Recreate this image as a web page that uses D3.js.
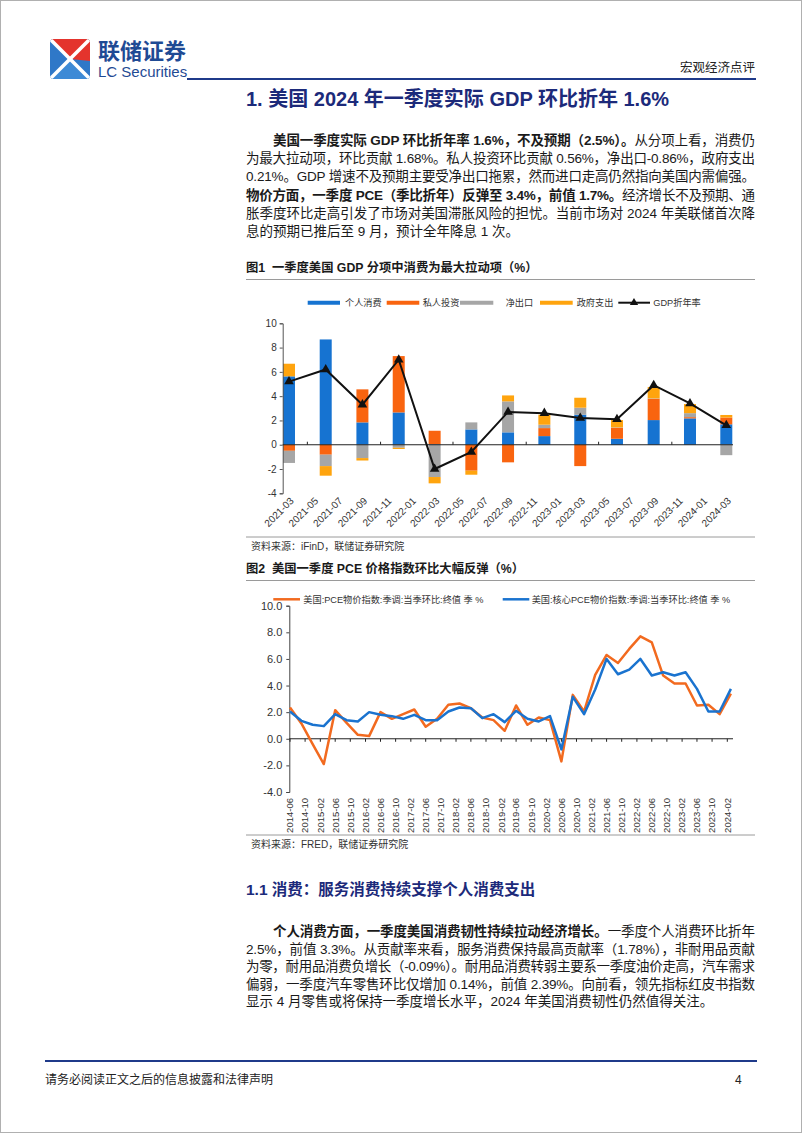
<!DOCTYPE html>
<html><head><meta charset="utf-8">
<script src="https://cdn.jsdelivr.net/npm/d3@7"></script>
<style>
body{margin:0;background:#fff;}
svg{display:block;font-family:"Liberation Sans","Noto Sans CJK SC",sans-serif;}
</style></head><body>
<svg id="page" width="802" height="1133"></svg>
<script>
// ---------------- DATA ----------------
// Chart 1: GDP contributions (quarterly, annualised q/q, %)
const gdpQuarters = ["2021-03","2021-06","2021-09","2021-12","2022-03","2022-06","2022-09","2022-12","2023-03","2023-06","2023-09","2023-12","2024-03"];
const consumption = [5.63, 8.67, 1.84, 2.66, 0.05, 1.26, 1.02, 0.71, 2.47, 0.49, 2.03, 2.17, 1.68];
const investment  = [-0.50, -0.82, 2.72, 4.64, 1.10, -2.14, -1.45, 0.66, -1.76, 0.91, 1.76, 0.10, 0.56];
const netExports  = [-1.00, -0.94, -1.10, -0.25, -2.66, 0.58, 2.55, 0.28, 0.58, 0.03, 0.03, 0.33, -0.86];
const government  = [1.04, -0.79, -0.20, -0.10, -0.52, -0.33, 0.49, 0.82, 0.82, 0.60, 0.93, 0.75, 0.21];
const gdpRate     = [5.2, 6.2, 3.3, 7.0, -2.0, -0.6, 2.7, 2.6, 2.2, 2.1, 4.9, 3.4, 1.6];
const chart1SeriesNames = ["个人消费","私人投资","净出口","政府支出"];
const chart1LineName = "GDP折年率";
const chart1TickLabels = ["2021-03","2021-05","2021-07","2021-09","2021-11","2022-01","2022-03","2022-05","2022-07","2022-09","2022-11","2023-01","2023-03","2023-05","2023-07","2023-09","2023-11","2024-01","2024-03"];
const chart1YTicks = [-4,-2,0,2,4,6,8,10];

// Chart 2: PCE price index q/q annualised (%)
const pceQuarters = ["2014-06","2014-09","2014-12","2015-03","2015-06","2015-09","2015-12","2016-03","2016-06","2016-09","2016-12","2017-03","2017-06","2017-09","2017-12","2018-03","2018-06","2018-09","2018-12","2019-03","2019-06","2019-09","2019-12","2020-03","2020-06","2020-09","2020-12","2021-03","2021-06","2021-09","2021-12","2022-03","2022-06","2022-09","2022-12","2023-03","2023-06","2023-09","2023-12","2024-03"];
const pceHeadline = [2.35, 1.15, -0.4, -1.9, 2.15, 1.2, 0.3, 0.2, 2.0, 1.5, 1.85, 2.2, 0.9, 1.5, 2.55, 2.65, 2.3, 1.6, 1.4, 0.6, 2.5, 1.05, 1.6, 1.4, -1.7, 3.3, 2.05, 4.8, 6.3, 5.7, 6.75, 7.7, 7.25, 4.75, 4.15, 4.15, 2.5, 2.55, 1.85, 3.4];
const pceCore     = [2.05, 1.35, 1.05, 0.95, 1.85, 1.4, 1.3, 2.0, 1.8, 1.7, 1.5, 1.8, 1.4, 1.4, 2.05, 2.35, 2.3, 1.55, 1.85, 1.25, 2.1, 1.5, 1.3, 1.7, -0.8, 3.15, 1.85, 3.7, 6.0, 4.85, 5.2, 6.0, 4.75, 5.0, 4.75, 5.0, 3.75, 2.05, 2.05, 3.75];
const chart2SeriesNames = ["美国:PCE物价指数:季调:当季环比:终值 季 %","美国:核心PCE物价指数:季调:当季环比:终值 季 %"];
const chart2TickLabels = ["2014-06","2014-10","2015-02","2015-06","2015-10","2016-02","2016-06","2016-10","2017-02","2017-06","2017-10","2018-02","2018-06","2018-10","2019-02","2019-06","2019-10","2020-02","2020-06","2020-10","2021-02","2021-06","2021-10","2022-02","2022-06","2022-10","2023-02","2023-06","2023-10","2024-02"];
const chart2YTicks = [-4,-2,0,2,4,6,8,10];

// ---------------- PAGE ----------------
const svg = d3.select("#page");
svg.append("rect").attr("x",0).attr("y",0).attr("width",802).attr("height",1133).attr("fill","#fff");
svg.append("rect").attr("x",0.5).attr("y",0.5).attr("width",801).attr("height",1132).attr("fill","none").attr("stroke","#b0b0b0");

const NAVY = "#1c2a7a";
const parseM = d3.timeParse("%Y-%m");

// Logo
const logo = svg.append("g").attr("transform","translate(50,39)");
const S = 40;
logo.append("clipPath").attr("id","lc").append("rect").attr("width",S).attr("height",S).attr("rx",4);
const lg = logo.append("g").attr("clip-path","url(#lc)");
lg.append("rect").attr("width",S).attr("height",S).attr("fill","#2f78c8");
lg.append("polygon").attr("points",`0,0 ${S},0 ${S},${S*0.55} ${S/2},${S/2}`).attr("fill","#e4342d");
lg.append("polygon").attr("points",`0,${S} ${S},${S} ${S/2},${S/2}`).attr("fill","#3d8ad6");
lg.append("line").attr("x1",0).attr("y1",0).attr("x2",S).attr("y2",S).attr("stroke","#fff").attr("stroke-width",3.5);
lg.append("line").attr("x1",S).attr("y1",0).attr("x2",0).attr("y2",S).attr("stroke","#fff").attr("stroke-width",3.5);
svg.append("text").attr("x",98).attr("y",59).attr("font-size",22).attr("font-weight","bold").attr("fill","#1f4a94").text("联储证券");
svg.append("text").attr("x",98).attr("y",77).attr("font-size",15).attr("fill","#1f4a94").text("LC Securities");
svg.append("line").attr("x1",187).attr("x2",756).attr("y1",79).attr("y2",79).attr("stroke","#1f3a8a").attr("stroke-width",2);
svg.append("text").attr("x",755).attr("y",72).attr("text-anchor","end").attr("font-size",12.5).attr("fill","#222").text("宏观经济点评");

// Title
svg.append("text").attr("x",246).attr("y",106).attr("font-size",20).attr("font-weight","bold").attr("fill",NAVY)
  .text("1. 美国 2024 年一季度实际 GDP 环比折年 1.6%");

function para(lines, y0, dy){
  lines.forEach((ln,i)=>{
    const x = ln.indent ? 273 : 246;
    const t = svg.append("text").attr("x",x).attr("y",y0+i*dy).attr("font-size",13.5).attr("fill","#1a1a1a");
    if(ln.justify){ t.attr("textLength",755-x).attr("lengthAdjust","spacing"); }
    ln.segs.forEach(s=>{ t.append("tspan").attr("font-weight",s[1]?"bold":"normal").text(s[0]); });
  });
}
para([
  {indent:true, justify:true, segs:[["美国一季度实际 GDP 环比折年率 1.6%，不及预期（2.5%）。",1],["从分项上看，消费仍",0]]},
  {justify:true, segs:[["为最大拉动项，环比贡献 1.68%。私人投资环比贡献 0.56%，净出口-0.86%，政府支出",0]]},
  {justify:true, segs:[["0.21%。GDP 增速不及预期主要受净出口拖累，然而进口走高仍然指向美国内需偏强。",0]]},
  {justify:true, segs:[["物价方面，一季度 PCE（季比折年）反弹至 3.4%，前值 1.7%。",1],["经济增长不及预期、通",0]]},
  {justify:true, segs:[["胀季度环比走高引发了市场对美国滞胀风险的担忧。当前市场对 2024 年美联储首次降",0]]},
  {justify:false, segs:[["息的预期已推后至 9 月，预计全年降息 1 次。",0]]}
], 145, 18.2);

// Captions & sources
function caption(y, txt){
  svg.append("text").attr("x",246).attr("y",y).attr("font-size",12.3).attr("font-weight","bold").attr("fill","#1a1a1a").attr("xml:space","preserve").text(txt);
  svg.append("line").attr("x1",246).attr("x2",755).attr("y1",y+7.5).attr("y2",y+7.5).attr("stroke","#9a9a9a").attr("stroke-width",1);
}
function source(y, txt){
  svg.append("line").attr("x1",246).attr("x2",755).attr("y1",y-9).attr("y2",y-9).attr("stroke","#9a9a9a").attr("stroke-width",1);
  svg.append("text").attr("x",251).attr("y",y+4).attr("font-size",10).attr("fill","#333").text(txt);
}
caption(272, "图1  一季度美国 GDP 分项中消费为最大拉动项（%）");
source(546, "资料来源：iFinD，联储证券研究院");
caption(573, "图2  美国一季度 PCE 价格指数环比大幅反弹（%）");
source(844, "资料来源：FRED，联储证券研究院");

// ---------------- CHART 1 ----------------
const c1 = svg.append("g");
const colors1 = ["#1673d1","#f9640f","#a6a6a6","#ffa40e"];
const x1 = d3.scaleTime().domain([parseM("2021-03"), parseM("2024-03")]).range([289, 726.3]);
const y1 = d3.scaleLinear().domain([-4,10]).range([493.3, 323.3]);
const rows1 = gdpQuarters.map((q,i)=>({date:parseM(q), 个人消费:consumption[i], 私人投资:investment[i], 净出口:netExports[i], 政府支出:government[i], gdp:gdpRate[i]}));
const stacked = d3.stack().keys(chart1SeriesNames).offset(d3.stackOffsetDiverging)(rows1);
stacked.forEach((s,si)=>{
  c1.append("g").attr("fill",colors1[si]).selectAll("rect").data(s).join("rect")
    .attr("x",d=>x1(d.data.date)-6).attr("width",12)
    .attr("y",d=>y1(Math.max(d[0],d[1]))).attr("height",d=>Math.abs(y1(d[0])-y1(d[1])));
});
// y axis
const ax1 = d3.axisLeft(y1).tickValues(chart1YTicks).tickSize(3).tickFormat(d=>String(d));
c1.append("g").attr("transform","translate(282.7,0)").call(ax1)
  .call(g=>{g.select(".domain").attr("stroke","#555");g.selectAll(".tick line").attr("stroke","#555");
    g.selectAll("text").attr("font-size",10).attr("fill","#333").attr("font-family","Liberation Sans").attr("x",-6);});
// zero line
c1.append("line").attr("x1",282.7).attr("x2",733).attr("y1",y1(0)).attr("y2",y1(0)).attr("stroke","#222").attr("stroke-width",1.2);
// category ticks between every second pair
const midTicks = rows1.slice(0,-1).filter((d,i)=>i%2===0).map((d,j)=>(x1(rows1[j*2].date)+x1(rows1[j*2+1].date))/2);
c1.selectAll(".mt").data(midTicks).join("line").attr("x1",d=>d).attr("x2",d=>d).attr("y1",y1(0)).attr("y2",y1(0)-3).attr("stroke","#222");
// x labels
c1.selectAll(".xl").data(chart1TickLabels).join("text")
  .attr("transform",d=>`translate(${x1(parseM(d))+3},499) rotate(-45)`)
  .attr("text-anchor","end").attr("dy","0.35em").attr("font-size",10).attr("fill","#333").text(d=>d);
// GDP line
const line1 = d3.line().x(d=>x1(d.date)).y(d=>y1(d.gdp));
c1.append("path").datum(rows1).attr("d",line1).attr("fill","none").attr("stroke","#111").attr("stroke-width",2);
const tri = d3.symbol().type(d3.symbolTriangle).size(40);
c1.selectAll(".mk").data(rows1).join("path").attr("d",tri).attr("transform",d=>`translate(${x1(d.date)},${y1(d.gdp)})`).attr("fill","#111");
// legend
const leg1 = [[307.7,340,345],[386.7,419.3,422.7],[460,493.3,505.7],[540,572.7,576.7]];
leg1.forEach((p,i)=>{
  c1.append("line").attr("x1",p[0]).attr("x2",p[1]).attr("y1",302.7).attr("y2",302.7).attr("stroke",colors1[i]).attr("stroke-width",4);
  c1.append("text").attr("x",p[2]).attr("y",302.7).attr("dy","0.35em").attr("font-size",9.2).attr("fill","#333").text(chart1SeriesNames[i]);
});
c1.append("line").attr("x1",618.3).attr("x2",650).attr("y1",302.7).attr("y2",302.7).attr("stroke","#111").attr("stroke-width",2);
c1.append("path").attr("d",d3.symbol().type(d3.symbolTriangle).size(30)).attr("transform","translate(634,302.7)").attr("fill","#111");
c1.append("text").attr("x",653.3).attr("y",302.7).attr("dy","0.35em").attr("font-size",9.2).attr("fill","#333").text(chart1LineName);

// ---------------- CHART 2 ----------------
const c2 = svg.append("g");
const colors2 = ["#f26a1f","#1a73cf"];
const x2 = d3.scaleTime().domain([parseM("2014-06"), parseM("2024-02")]).range([290, 727.3]);
const y2 = d3.scaleLinear().domain([-4,10]).range([792, 605.7]);
const ax2 = d3.axisLeft(y2).tickValues(chart2YTicks).tickSize(3).tickFormat(d=>d.toFixed(1));
c2.append("g").attr("transform","translate(289.3,0)").call(ax2)
  .call(g=>{g.select(".domain").attr("stroke","#444");g.selectAll(".tick line").attr("stroke","#444");
    g.selectAll("text").attr("font-size",11).attr("fill","#333").attr("font-family","Liberation Sans").attr("x",-7);});
c2.append("line").attr("x1",289.3).attr("x2",733).attr("y1",y2(0)).attr("y2",y2(0)).attr("stroke","#222").attr("stroke-width",1);
c2.selectAll(".xt").data(chart2TickLabels).join("line")
  .attr("x1",d=>x2(parseM(d))).attr("x2",d=>x2(parseM(d))).attr("y1",y2(0)).attr("y2",y2(0)+3).attr("stroke","#222");
c2.selectAll(".xl").data(chart2TickLabels).join("text")
  .attr("transform",d=>`translate(${x2(parseM(d))},798) rotate(-90)`)
  .attr("text-anchor","end").attr("dy","0.35em").attr("font-size",9.5).attr("fill","#333").text(d=>d);
const rows2 = pceQuarters.map((q,i)=>({date:parseM(q), h:pceHeadline[i], c:pceCore[i]}));
c2.append("path").datum(rows2).attr("d",d3.line().x(d=>x2(d.date)).y(d=>y2(d.h))).attr("fill","none").attr("stroke",colors2[0]).attr("stroke-width",2.5).attr("stroke-linejoin","round");
c2.append("path").datum(rows2).attr("d",d3.line().x(d=>x2(d.date)).y(d=>y2(d.c))).attr("fill","none").attr("stroke",colors2[1]).attr("stroke-width",2.5).attr("stroke-linejoin","round");
// legend
[[273.3,300,303.3],[502.7,529.3,531.7]].forEach((p,i)=>{
  c2.append("line").attr("x1",p[0]).attr("x2",p[1]).attr("y1",599.3).attr("y2",599.3).attr("stroke",colors2[i]).attr("stroke-width",2.5);
  c2.append("text").attr("x",p[2]).attr("y",599.3).attr("dy","0.35em").attr("font-size",9.2).attr("fill","#333").text(chart2SeriesNames[i]);
});

// Section 1.1
svg.append("text").attr("x",246).attr("y",895).attr("font-size",15.5).attr("font-weight","bold").attr("fill",NAVY).text("1.1 消费：服务消费持续支撑个人消费支出");
para([
  {indent:true, justify:true, segs:[["个人消费方面，一季度美国消费韧性持续拉动经济增长。",1],["一季度个人消费环比折年",0]]},
  {justify:true, segs:[["2.5%，前值 3.3%。从贡献率来看，服务消费保持最高贡献率（1.78%），非耐用品贡献",0]]},
  {justify:true, segs:[["为零，耐用品消费负增长（-0.09%）。耐用品消费转弱主要系一季度油价走高，汽车需求",0]]},
  {justify:true, segs:[["偏弱，一季度汽车零售环比仅增加 0.14%，前值 2.39%。向前看，领先指标红皮书指数",0]]},
  {justify:false, segs:[["显示 4 月零售或将保持一季度增长水平，2024 年美国消费韧性仍然值得关注。",0]]}
], 936, 17.6);

// Footer
svg.append("line").attr("x1",45).attr("x2",757).attr("y1",1061).attr("y2",1061).attr("stroke","#1f3a8a").attr("stroke-width",2.2);
svg.append("text").attr("x",45).attr("y",1084).attr("font-size",12).attr("fill","#222").text("请务必阅读正文之后的信息披露和法律声明");
svg.append("text").attr("x",735).attr("y",1084).attr("font-size",12).attr("fill","#222").text("4");
</script>
</body></html>
